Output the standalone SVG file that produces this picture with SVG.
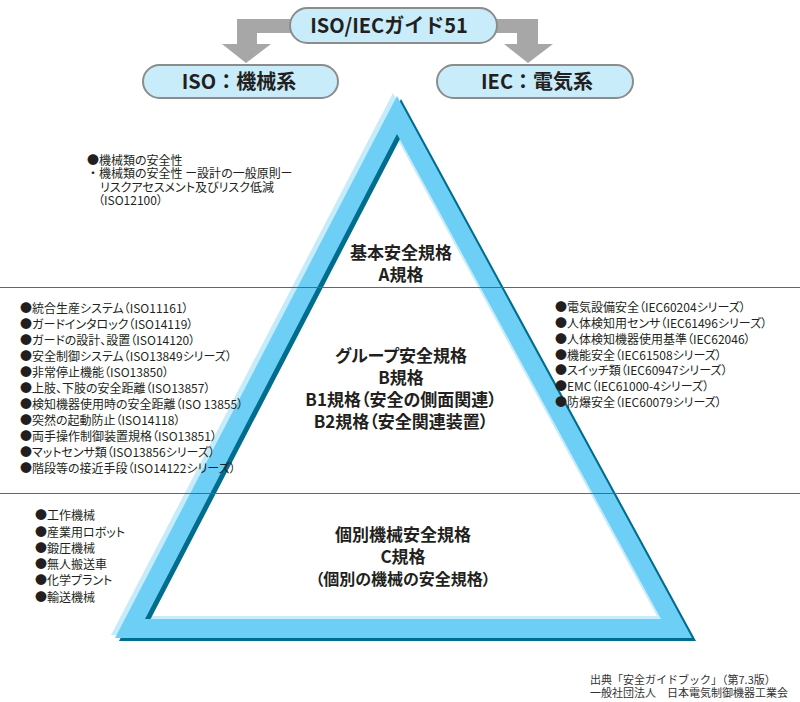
<svg xmlns="http://www.w3.org/2000/svg" width="800" height="702" viewBox="0 0 800 702">
<style>
text{font-family:"Noto Sans CJK JP","Noto Sans",sans-serif;fill:#231f20;font-feature-settings:"palt";}
.box{fill:#c9ecfb;stroke:#8c8c8c;stroke-width:2;}
.boxt{font-size:20px;font-weight:700;text-anchor:middle;font-feature-settings:normal;}
.arr{fill:#a7a7a7;}
.ctr{font-size:17px;font-weight:700;text-anchor:middle;}
.lst{font-size:12px;}
.cite{font-size:11px;fill:#333;font-feature-settings:normal;}
.sep{stroke:#666;stroke-width:1;}
</style>
<defs>
<path id="band" fill-rule="evenodd" d="M397,96 L692,638 L115,638 Z M397,134 L145,619 L661,619 Z"/>
</defs>
<g id="pyramid">
<use href="#band" fill="#c6ebfb" transform="translate(-4,-3)"/>
<use href="#band" fill="#006d8f" transform="translate(4,3)"/>
<use href="#band" fill="#6dcff5"/>
</g>
<g id="separators">
<line class="sep" x1="0" y1="287.5" x2="800" y2="287.5"/>
<line class="sep" x1="0" y1="493.5" x2="800" y2="493.5"/>
</g>
<g id="connectors">
<path class="arr" d="M292,19 L237,19 L237,44 L222,44 L246,63 L271,44 L257,44 L257,33 L292,33 Z"/>
<path class="arr" d="M485,19 L538,19 L538,44 L553,44 L528,63 L504,44 L517,44 L517,33 L485,33 Z"/>
</g>
<g id="node-guide51">
<rect class="box" x="290" y="8" width="207" height="35" rx="17.5"/>
<text class="boxt" x="389" y="33">ISO/IECガイド51</text>
</g>
<g id="node-iso">
<rect class="box" x="143" y="65" width="195" height="33" rx="16.5"/>
<text class="boxt" x="239" y="89">ISO：機械系</text>
</g>
<g id="node-iec">
<rect class="box" x="437" y="65" width="196" height="33" rx="16.5"/>
<text class="boxt" x="537" y="89">IEC：電気系</text>
</g>
<g id="node-a">
<text class="ctr" x="401" y="259">基本安全規格</text>
<text class="ctr" x="401" y="281">A規格</text>
</g>
<g id="node-b">
<text class="ctr" x="401" y="362">グループ安全規格</text>
<text class="ctr" x="401" y="384">B規格</text>
<text class="ctr" x="401" y="406">B1規格（安全の側面関連）</text>
<text class="ctr" x="401" y="428">B2規格（安全関連装置）</text>
</g>
<g id="node-c">
<text class="ctr" x="403" y="541">個別機械安全規格</text>
<text class="ctr" x="403" y="563">C規格</text>
<text class="ctr" x="403" y="585" style="font-size:16px">（個別の機械の安全規格）</text>
</g>
<g id="list-a">
<text class="lst" x="87" y="164.5">●機械類の安全性</text>
<text class="lst" x="87" y="178" style="font-feature-settings:normal">・<tspan style="font-feature-settings:'palt'">機械類の安全性 ー設計の一般原則ー</tspan></text>
<text class="lst" x="100" y="191.5">リスクアセスメント及びリスク低減</text>
<text class="lst" x="98" y="205">（ISO12100）</text>
</g>
<g id="list-b-iso">
<text class="lst" x="20" y="313">●統合生産システム（ISO11161）</text>
<text class="lst" x="20" y="329">●ガードインタロック（ISO14119）</text>
<text class="lst" x="20" y="345">●ガードの設計、設置（ISO14120）</text>
<text class="lst" x="20" y="361">●安全制御システム（ISO13849シリーズ）</text>
<text class="lst" x="20" y="377">●非常停止機能（ISO13850）</text>
<text class="lst" x="20" y="393">●上肢、下肢の安全距離（ISO13857）</text>
<text class="lst" x="20" y="409">●検知機器使用時の安全距離（ISO 13855）</text>
<text class="lst" x="20" y="425">●突然の起動防止（ISO14118）</text>
<text class="lst" x="20" y="441">●両手操作制御装置規格（ISO13851）</text>
<text class="lst" x="20" y="457">●マットセンサ類（ISO13856シリーズ）</text>
<text class="lst" x="20" y="473">●階段等の接近手段（ISO14122シリーズ）</text>
</g>
<g id="list-b-iec">
<text class="lst" x="555" y="312">●電気設備安全（IEC60204シリーズ）</text>
<text class="lst" x="555" y="328">●人体検知用センサ（IEC61496シリーズ）</text>
<text class="lst" x="555" y="344">●人体検知機器使用基準（IEC62046）</text>
<text class="lst" x="555" y="360">●機能安全（IEC61508シリーズ）</text>
<text class="lst" x="555" y="375">●スイッチ類（IEC60947シリーズ）</text>
<text class="lst" x="555" y="391">●EMC（IEC61000-4シリーズ）</text>
<text class="lst" x="555" y="407">●防爆安全（IEC60079シリーズ）</text>
</g>
<g id="list-c">
<text class="lst" x="35" y="520">●工作機械</text>
<text class="lst" x="35" y="537">●産業用ロボット</text>
<text class="lst" x="35" y="553">●鍛圧機械</text>
<text class="lst" x="35" y="569">●無人搬送車</text>
<text class="lst" x="35" y="585">●化学プラント</text>
<text class="lst" x="35" y="602">●輸送機械</text>
</g>
<g id="citation">
<text class="cite" x="590" y="684">出典「安全ガイドブック」（第7.3版）</text>
<text class="cite" x="590" y="697">一般社団法人　日本電気制御機器工業会</text>
</g>
</svg>
